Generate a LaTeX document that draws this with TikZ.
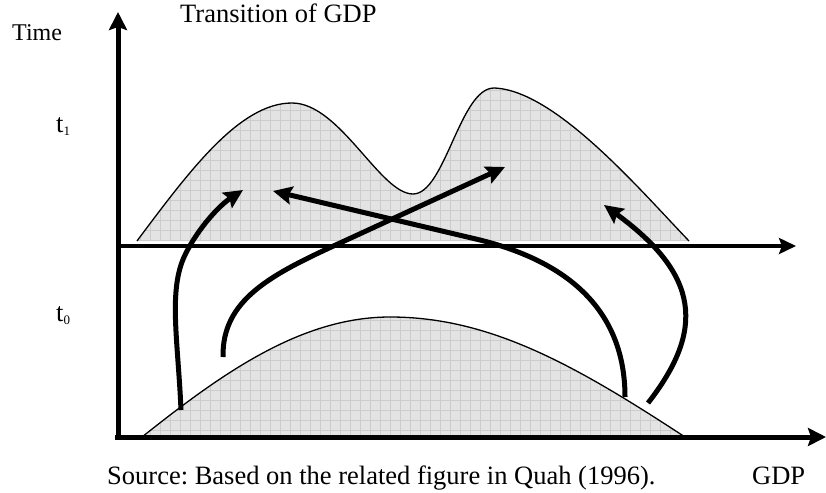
\documentclass[tikz,border=0pt]{standalone}
\usepackage{fontspec}
\setmainfont{Liberation Serif}
\usetikzlibrary{arrows.meta, positioning}
\frenchspacing

% outlines of the two densities (pixel-like units, y pointing down)
\newcommand{\densTop}{(137,241) .. controls (190,170) and (240,103) .. (292,103)
  .. controls (340,103) and (380,194) .. (413,194)
  .. controls (445,194) and (460,88) .. (494,88)
  .. controls (555,90) and (640,190) .. (689,241)}
\newcommand{\densBot}{(142,437) .. controls (220,375) and (300,317) .. (390,317)
  .. controls (490,317) and (575,365) .. (685,437)}
\newcommand{\tsub}[1]{t\raisebox{-3pt}{\fontsize{13}{13}\selectfont #1}}

\tikzset{
  dens/.style={fill=gray!22},
  gridline/.style={draw=gray!40, line width=0.6pt},
  axis/.style={line width=5pt, -{Stealth[length=18pt,width=18pt,inset=3pt]}},
  move/.style={line width=5pt, -{Stealth[length=19pt,width=18pt,inset=3pt]}},
  lbl/.style={anchor=base west, inner sep=0pt, font=\fontsize{26.5}{30}\selectfont}
}

\begin{document}
\begin{tikzpicture}[x=1pt, y=-1pt]
  \useasboundingbox (0,0) rectangle (826,492);

  % shaded densities with grid
  \fill[dens] \densTop -- cycle;
  \fill[dens] \densBot -- cycle;
  \begin{scope}
    \clip \densTop -- cycle;
    \draw[gridline] (100,0) grid[step=10pt] (700,250);
  \end{scope}
  \begin{scope}
    \clip \densBot -- cycle;
    \draw[gridline] (100,300) grid[step=10pt] (700,440);
  \end{scope}
  \draw[line width=1.3pt] \densTop;
  \draw[line width=1.3pt] \densBot;

  % axes
  \coordinate (orig) at (118,437);
  \coordinate (ytip) at (118,12);
  \coordinate (xtip) at (826,437);
  \coordinate (mid0) at (118,246);
  \coordinate (midtip) at (796,246);
  \draw[axis] (115,437) -- (xtip);
  \draw[axis] (orig) -- (ytip);
  \draw[line width=4pt, -{Stealth[length=17pt,width=16pt,inset=3pt]}] (mid0) -- (midtip);

  % transitions t0 -> t1
  \coordinate (a1) at (181,410);
  \coordinate (b1) at (243,190);
  \coordinate (a2) at (223,357);
  \coordinate (b2) at (505,167);
  \coordinate (a3) at (625,397);
  \coordinate (b3) at (273,191);
  \coordinate (a4) at (648,403);
  \coordinate (b4) at (604,205);
  \draw[move] (a1) .. controls (178,340) and (168,290) .. (185,255)
    .. controls (198,228) and (220,205) .. (b1);
  \draw[move] (a2) .. controls (222,300) and (270,275) .. (340,243) -- (b2);
  \draw[move] (a3) .. controls (625,320) and (580,265) .. (480,240) -- (b3);
  \draw[move] (a4) .. controls (705,330) and (700,275) .. (b4);

  % labels
  \node[lbl, font=\fontsize{24}{28}\selectfont] (time) at (12,41) {Time};
  \node[lbl] (title) at (180,23) {Transition of GDP};
  \node[lbl] (t1) at (56,132) {\tsub{1}};
  \node[lbl] (t0) at (56,321) {\tsub{0}};
  \node[lbl] (src) at (107,484) {Source: Based on the related figure in Quah (1996).};
  \node[lbl] (gdp) at (752,484) {GDP};
\end{tikzpicture}
\end{document}
